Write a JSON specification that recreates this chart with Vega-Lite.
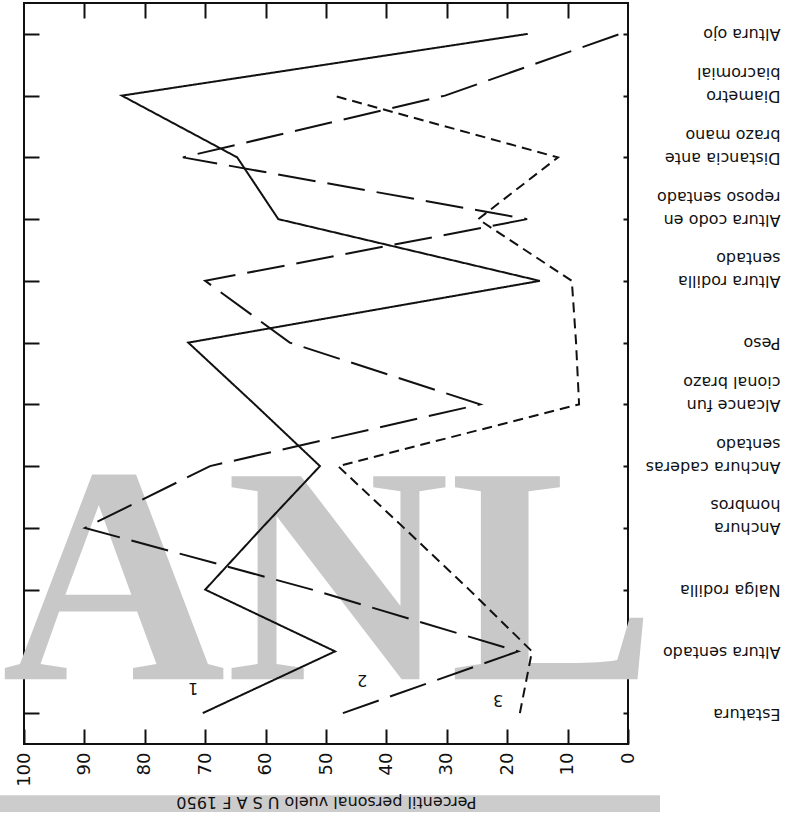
{
  "$schema": "https://vega.github.io/schema/vega-lite/v6.json",
  "autosize": {"type": "none"},
  "width": 604,
  "height": 741,
  "padding": {"left": 24, "top": 3, "right": 172, "bottom": 85},
  "background": "white",
  "config": {
    "view": {"stroke": "#111", "strokeWidth": 2},
    "font": "DejaVu Sans",
    "axis": {"grid": false, "domain": false, "tickColor": "#111", "tickWidth": 2, "labelColor": "#111", "titleColor": "#111"}
  },
  "datasets": {
    "lines": [
      {"serie": "1", "idx": 0, "medida": "Estatura", "p": 70.4},
      {"serie": "1", "idx": 1, "medida": "Altura sentado", "p": 48.5},
      {"serie": "1", "idx": 2, "medida": "Nalga rodilla", "p": 70.0},
      {"serie": "1", "idx": 3, "medida": "Anchura hombros", "p": 60.6},
      {"serie": "1", "idx": 4, "medida": "Anchura caderas sentado", "p": 51.0},
      {"serie": "1", "idx": 5, "medida": "Alcance funcional brazo", "p": 61.8},
      {"serie": "1", "idx": 6, "medida": "Peso", "p": 72.8},
      {"serie": "1", "idx": 7, "medida": "Altura rodilla sentado", "p": 14.6},
      {"serie": "1", "idx": 8, "medida": "Altura codo en reposo sentado", "p": 57.9},
      {"serie": "1", "idx": 9, "medida": "Distancia ante brazo mano", "p": 64.7},
      {"serie": "1", "idx": 10, "medida": "Diametro biacromial", "p": 83.8},
      {"serie": "1", "idx": 11, "medida": "Altura ojo", "p": 16.6},
      {"serie": "2", "idx": 0, "medida": "Estatura", "p": 47.2},
      {"serie": "2", "idx": 1, "medida": "Altura sentado", "p": 18.2},
      {"serie": "2", "idx": 2, "medida": "Nalga rodilla", "p": 52.3},
      {"serie": "2", "idx": 3, "medida": "Anchura hombros", "p": 89.9},
      {"serie": "2", "idx": 4, "medida": "Anchura caderas sentado", "p": 69.2},
      {"serie": "2", "idx": 5, "medida": "Alcance funcional brazo", "p": 24.5},
      {"serie": "2", "idx": 6, "medida": "Peso", "p": 56.0},
      {"serie": "2", "idx": 7, "medida": "Altura rodilla sentado", "p": 70.0},
      {"serie": "2", "idx": 8, "medida": "Altura codo en reposo sentado", "p": 16.7},
      {"serie": "2", "idx": 9, "medida": "Distancia ante brazo mano", "p": 73.7},
      {"serie": "2", "idx": 10, "medida": "Diametro biacromial", "p": 30.3},
      {"serie": "2", "idx": 11, "medida": "Altura ojo", "p": 1.3},
      {"serie": "3", "idx": 0, "medida": "Estatura", "p": 17.9},
      {"serie": "3", "idx": 1, "medida": "Altura sentado", "p": 15.9},
      {"serie": "3", "idx": 2, "medida": "Nalga rodilla", "p": 26.3},
      {"serie": "3", "idx": 3, "medida": "Anchura hombros", "p": 37.1},
      {"serie": "3", "idx": 4, "medida": "Anchura caderas sentado", "p": 48.0},
      {"serie": "3", "idx": 5, "medida": "Alcance funcional brazo", "p": 8.1},
      {"serie": "3", "idx": 6, "medida": "Peso", "p": 8.6},
      {"serie": "3", "idx": 7, "medida": "Altura rodilla sentado", "p": 9.3},
      {"serie": "3", "idx": 8, "medida": "Altura codo en reposo sentado", "p": 24.8},
      {"serie": "3", "idx": 9, "medida": "Distancia ante brazo mano", "p": 11.6},
      {"serie": "3", "idx": 10, "medida": "Diametro biacromial", "p": 48.8}
    ],
    "etiquetas": [
      {"serie": "1", "p": 72.0, "idx": 0.4},
      {"serie": "2", "p": 44.0, "idx": 0.54},
      {"serie": "3", "p": 21.5, "idx": 0.21}
    ]
  },
  "layer": [
    {
      "data": {"values": [{"marca": "ANL"}]},
      "mark": {"type": "rect", "color": "#cccccc"},
      "encoding": {
        "x": {"datum": 104, "type": "quantitative", "axis": null},
        "x2": {"datum": -5.3},
        "y": {"datum": -1.33, "type": "quantitative", "axis": null},
        "y2": {"datum": -1.6}
      }
    },
    {
      "data": {"values": [{"marca": "ANL"}]},
      "mark": {"type": "text", "font": "Liberation Serif", "fontWeight": "bold", "fontSize": 310, "color": "#c8c8c8", "align": "center", "baseline": "alphabetic"},
      "encoding": {
        "x": {"datum": 49.5, "type": "quantitative", "axis": null},
        "y": {"datum": 0.55, "type": "quantitative", "axis": null},
        "text": {"field": "marca"}
      }
    },
    {
      "data": {"name": "lines"},
      "mark": {"type": "line", "strokeWidth": 2, "color": "#111"},
      "encoding": {
        "x": {
          "field": "p", "type": "quantitative",
          "scale": {"domain": [0, 100], "reverse": true, "nice": false, "zero": false},
          "axis": {
            "orient": "bottom", "zindex": 1,
            "values": [0, 10, 20, 30, 40, 50, 60, 70, 80, 90, 100],
            "labelAngle": 270, "labelAlign": "right", "labelBaseline": "middle",
            "labelFontSize": 18, "labelPadding": 23, "labelFlush": false,
            "tickSize": -15,
            "title": "Percentil personal vuelo U S A F 1950",
            "titleAngle": 180, "titleFontSize": 16, "titleFontWeight": "normal",
            "titleBaseline": "alphabetic", "titlePadding": 10
          }
        },
        "y": {
          "field": "idx", "type": "quantitative",
          "scale": {"domain": [-0.5, 11.5], "nice": false, "zero": false},
          "axis": {
            "orient": "right",
            "values": [0, 1, 2, 3, 4, 5, 6, 7, 8, 9, 10, 11],
            "labelExpr": "[['Estatura'], ['Altura sentado'], ['Nalga rodilla'], ['Anchura', 'hombros'], ['Anchura caderas', 'sentado'], ['Alcance fun', 'cional brazo'], ['Peso'], ['Altura rodilla', 'sentado'], ['Altura codo en', 'reposo sentado'], ['Distancia ante', 'brazo mano'], ['Diametro', 'biacromial'], ['Altura ojo']][datum.value]",
            "labelAngle": 180, "labelAlign": "left", "labelBaseline": "middle",
            "labelFontSize": 16, "labelLineHeight": 23, "labelPadding": 157,
            "labelOverlap": false,
            "tickSize": -5,
            "title": null
          }
        },
        "strokeDash": {
          "field": "serie", "type": "nominal",
          "scale": {"domain": ["1", "2", "3"], "range": [[1, 0], [38, 12], [10, 6]]},
          "legend": null
        },
        "order": {"field": "idx", "type": "quantitative"}
      }
    },
    {
      "data": {"name": "etiquetas"},
      "mark": {"type": "text", "angle": 180, "fontSize": 16, "color": "#111"},
      "encoding": {
        "x": {
          "field": "p", "type": "quantitative",
          "axis": {"orient": "top", "values": [10, 20, 30, 40, 50, 60, 70, 80, 90], "labels": false, "tickSize": -15, "title": null}
        },
        "y": {
          "field": "idx", "type": "quantitative",
          "axis": {"orient": "left", "values": [0, 1, 2, 3, 4, 5, 6, 7, 8, 9, 10, 11], "labels": false, "tickSize": -15, "title": null}
        },
        "text": {"field": "serie"}
      }
    }
  ],
  "resolve": {"axis": {"x": "independent", "y": "independent"}}
}
